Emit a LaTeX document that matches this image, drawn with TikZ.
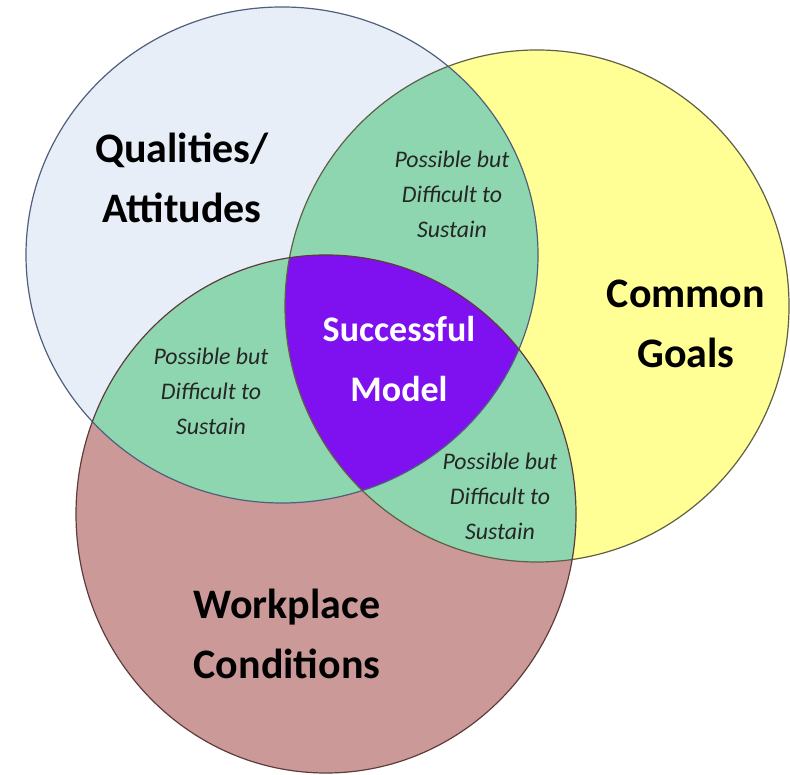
\documentclass[tikz,border=0pt]{standalone}
\usepackage{fontspec}
\setmainfont{Carlito}
\definecolor{qualfill}{RGB}{232,238,248}
\definecolor{goalfill}{RGB}{255,255,150}
\definecolor{workfill}{RGB}{204,153,153}
\definecolor{overlapfill}{RGB}{141,214,176}
\definecolor{modelfill}{RGB}{127,16,240}
\def\qualcircle{(282,519) ellipse [x radius=256, y radius=248]}
\def\goalcircle{(537,468) ellipse [x radius=252, y radius=256]}
\def\workcircle{(326,260) ellipse [x radius=250, y radius=259]}
\tikzset{
	bigtext/.style={align=center, font=\bfseries\fontsize{21}{30}\selectfont},
	smalltext/.style={align=center, text=black!85, font=\itshape\fontsize{11.9}{17.5}\selectfont}
}

\begin{document}
\begin{tikzpicture}[x=0.5pt, y=0.5pt]
		%%%%% START %%%%%
		\useasboundingbox (0,0) rectangle (790,774);
		
		\fill[qualfill] \qualcircle;
		\fill[goalfill] \goalcircle;
		\fill[workfill] \workcircle;
		
		% two-way overlaps
		\begin{scope}
			\clip \qualcircle;
			\fill[overlapfill] \goalcircle;
			\fill[overlapfill] \workcircle;
		\end{scope}
		\begin{scope}
			\clip \goalcircle;
			\fill[overlapfill] \workcircle;
		\end{scope}
		
		% middle
		\begin{scope}
			\clip \qualcircle;
			\clip \goalcircle;
			\fill[modelfill] \workcircle;
		\end{scope}
		
		\draw[line width=0.6pt, color={rgb,255:red,80;green,95;blue,125}] \qualcircle;
		\draw[line width=0.6pt, color={rgb,255:red,95;green,95;blue,70}] \goalcircle;
		\draw[line width=0.6pt, color={rgb,255:red,95;green,60;blue,60}] \workcircle;
		
		\node[bigtext] (qualities) at (182,596) {Qualities/\\Attitudes};
		\node[bigtext] (goals) at (686,450) {Common\\Goals};
		\node[bigtext] (workplace) at (287,140) {Workplace\\Conditions};
		\node[align=center, text=white, font=\bfseries\fontsize{18}{30}\selectfont] (model) at (399,415) {Successful\\Model};
		
		\node[smalltext] (qualgoal) at (452,580) {Possible but\\Difficult to\\Sustain};
		\node[smalltext] (qualwork) at (211,383) {Possible but\\Difficult to\\Sustain};
		\node[smalltext] (goalwork) at (500,278) {Possible but\\Difficult to\\Sustain};
		%%%%% END %%%%%
	\end{tikzpicture}
\end{document}
